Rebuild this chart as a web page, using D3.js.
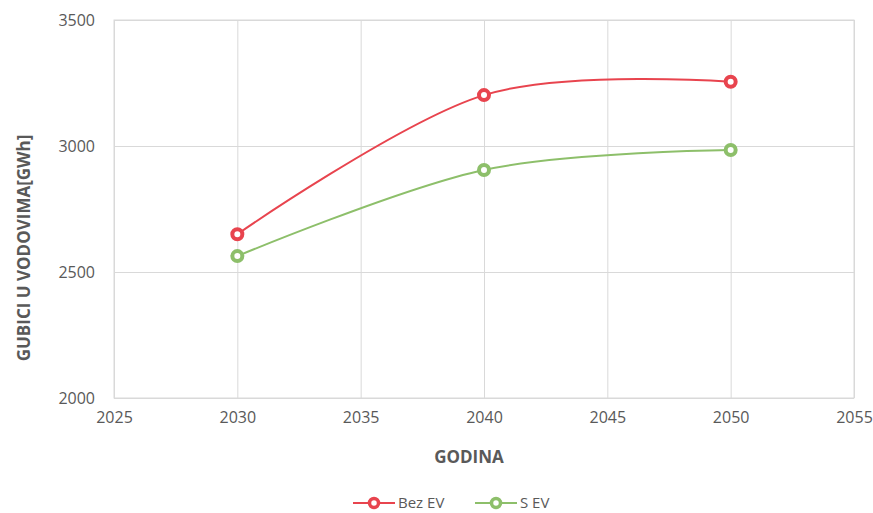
<!DOCTYPE html>
<html>
<head>
<meta charset="utf-8">
<script src="https://cdn.jsdelivr.net/npm/d3@7"></script>
<style>
  body { margin: 0; background: #fff; }
  text { font-family: "Open Sans", sans-serif; fill: #595959; }
  .axis-title { font-weight: bold; font-size: 17px; }
</style>
</head>
<body>
<div id="chart"></div>
<script>
const years = [2030, 2040, 2050];
const bezEV = [2650, 3202, 3255];
const sEV = [2563, 2905, 2984];
const xTicks = [2025, 2030, 2035, 2040, 2045, 2050, 2055];
const yTicks = [2000, 2500, 3000, 3500];
const seriesNames = ["Bez EV", "S EV"];
const seriesColors = ["#E8444E", "#8DBF6A"];

const svg = d3.select("#chart").append("svg")
    .attr("width", 873)
    .attr("height", 513);

const margin = { top: 20, bottom: 115, left: 114, right: 19 };
const width = 873 - margin.left - margin.right;
const height = 513 - margin.top - margin.bottom;

const canvas = svg.append("g")
    .attr("transform", `translate(${margin.left},${margin.top})`);

const xScale = d3.scaleLinear().domain([2025, 2055]).range([0, width]);
const yScale = d3.scaleLinear().domain([2000, 3500]).range([height, 0]);

// grid + tick labels
canvas.append("g")
    .attr("transform", `translate(0,${height})`)
    .call(d3.axisBottom(xScale).tickValues(xTicks).tickSize(-height).tickFormat(d3.format("d")).tickPadding(14))
    .call(g => g.select(".domain").remove())
    .call(g => g.selectAll("line").attr("stroke", "#d9d9d9"))
    .call(g => g.selectAll("text").style("font-size", "16px").attr("fill", "#595959"));

canvas.append("g")
    .call(d3.axisLeft(yScale).tickValues(yTicks).tickSize(-width).tickFormat(d3.format("d")).tickPadding(19))
    .call(g => g.select(".domain").remove())
    .call(g => g.selectAll("line").attr("stroke", "#d9d9d9"))
    .call(g => g.selectAll("text").style("font-size", "16px").attr("fill", "#595959"));

canvas.append("rect")
    .attr("width", width).attr("height", height)
    .attr("fill", "none").attr("stroke", "#d9d9d9");

const line = d3.line()
    .x(d => xScale(d[0]))
    .y(d => yScale(d[1]))
    .curve(d3.curveCardinal.tension(0));

[bezEV, sEV].forEach(function (vals, i) {
    const pts = years.map((y, k) => [y, vals[k]]);
    canvas.append("path")
        .datum(pts)
        .attr("fill", "none")
        .attr("stroke", seriesColors[i])
        .attr("stroke-width", 2)
        .attr("d", line);
    canvas.selectAll(".m" + i)
        .data(pts)
        .enter().append("circle")
        .attr("cx", d => xScale(d[0]))
        .attr("cy", d => yScale(d[1]))
        .attr("r", 5)
        .attr("fill", "#fff")
        .attr("stroke", seriesColors[i])
        .attr("stroke-width", 4);
});

svg.append("text")
    .attr("class", "axis-title")
    .attr("x", 469)
    .attr("y", 463)
    .attr("text-anchor", "middle")
    .text("GODINA");

svg.append("text")
    .attr("class", "axis-title")
    .attr("transform", "translate(30,248) rotate(-90)")
    .attr("text-anchor", "middle")
    .text("GUBICI U VODOVIMA[GWh]");

// legend
const legendX = [353, 475];
const legend = svg.append("g");
seriesNames.forEach(function (name, i) {
    const g = legend.append("g").attr("transform", `translate(${legendX[i]},503)`);
    g.append("line").attr("x1", 0).attr("x2", 42).attr("y1", 0).attr("y2", 0)
        .attr("stroke", seriesColors[i]).attr("stroke-width", 2);
    g.append("circle").attr("cx", 21).attr("cy", 0).attr("r", 4.5)
        .attr("fill", "#fff").attr("stroke", seriesColors[i]).attr("stroke-width", 3.5);
    g.append("text").attr("x", 45).attr("y", 5).style("font-size", "15px").text(name);
});
</script>
</body>
</html>
